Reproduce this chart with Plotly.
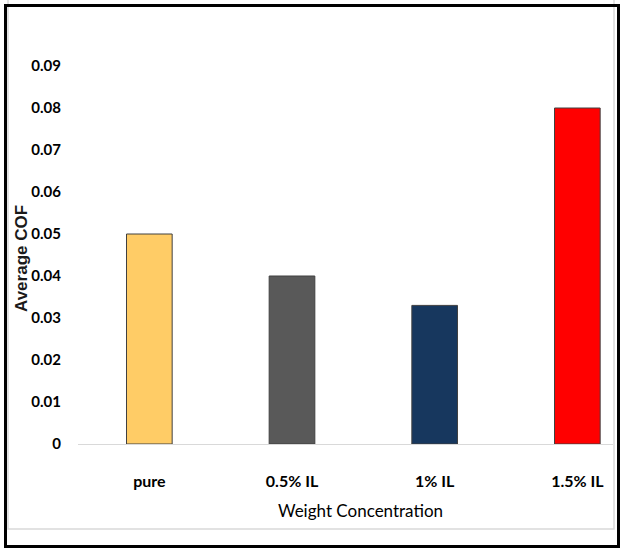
import plotly.graph_objects as go

categories = ["pure", "0.5% IL", "1% IL", "1.5% IL"]
cof_values = [0.050, 0.040, 0.033, 0.080]
bar_colors = ["#FFCC66", "#595959", "#17375E", "#FF0000"]
y_ticks = [0, 0.01, 0.02, 0.03, 0.04, 0.05, 0.06, 0.07, 0.08, 0.09]
y_tick_labels = ["0", "0.01", "0.02", "0.03", "0.04", "0.05", "0.06", "0.07", "0.08", "0.09"]

W, H = 624, 551
L, R, T, B = 78, 11, 66, 107
pw, ph = W - L - R, H - T - B

def px(x):
    return (x - L) / pw

def py(y):
    return (H - B - y) / ph

font_main = "Lato, Roboto, sans-serif"

fig = go.Figure()
fig.add_trace(go.Bar(
    x=categories, y=cof_values,
    marker=dict(color=bar_colors, line=dict(color="#404040", width=1)),
    width=0.32,
))

fig.update_layout(
    width=W, height=H,
    margin=dict(l=L, r=R, t=T, b=B),
    paper_bgcolor="white", plot_bgcolor="white",
    showlegend=False,
    xaxis=dict(
        range=[-0.5, 3.25], showgrid=False, zeroline=False,
        showline=True, linecolor="#D9D9D9", linewidth=1,
        ticks="", ticklabelstandoff=23,
        tickfont=dict(family=font_main, size=16, color="black", weight="bold"),
    ),
    yaxis=dict(
        range=[0, 0.09], showgrid=False, zeroline=False, showline=False,
        tickvals=y_ticks, ticktext=y_tick_labels, ticks="",
        ticklabelstandoff=16,
        tickfont=dict(family=font_main, size=15, color="black", weight="bold"),
    ),
    annotations=[
        dict(text="Weight Concentration", xref="paper", yref="paper",
             x=px(360), y=py(510), xanchor="center", yanchor="middle", showarrow=False,
             font=dict(family=font_main, size=17, color="black")),
        dict(text="<b>Average COF</b>", xref="paper", yref="paper",
             x=px(21), y=py(259), xanchor="center", yanchor="middle",
             showarrow=False, textangle=-90,
             font=dict(family="Liberation Sans, Arial, sans-serif", size=17, color="#1a1a1a")),
    ],
    shapes=[
        dict(type="path", xref="paper", yref="paper",
             path=f"M {px(8)} {py(-5)} L {px(8)} {py(529)} L {px(614)} {py(529)} L {px(614)} {py(-5)}",
             line=dict(color="#D9D9D9", width=1.5)),
        dict(type="rect", xref="paper", yref="paper",
             x0=px(5.5), x1=px(618.5), y0=py(5.5), y1=py(546.5),
             line=dict(color="black", width=3)),
    ],
)

fig.write_html("out.html", config={"displayModeBar": False},
               post_script="document.body.style.margin='0px';")
